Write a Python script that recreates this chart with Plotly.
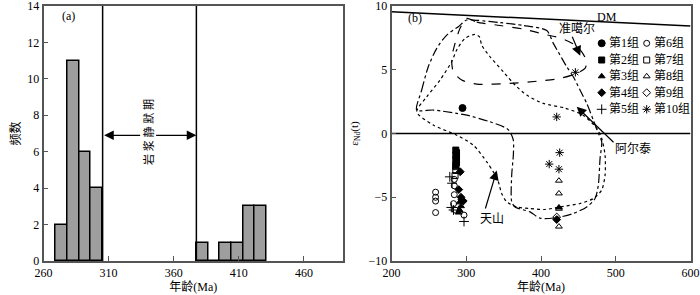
import plotly.graph_objects as go

FONT = "Liberation Serif, 'Noto Sans CJK SC', serif"

# ---------------- panel (a): histogram ----------------
bin_start = [269.4, 278.4, 287.4, 296.4, 377.4, 386.4, 395.4, 404.4, 413.4, 422.4]
counts = [2, 11, 6, 4, 1, 0, 1, 1, 3, 3]
bin_width = 9
quiet_bounds = [305.4, 377.4]      # magmatic quiescence boundaries (Ma)
quiet_arrow_y = 6.9
a_xticks = [260, 310, 360, 410, 460]
a_yticks = [0, 2, 4, 6, 8, 10, 12, 14]

# ---------------- panel (b): eNd(t) vs age ----------------
g1_age = [295]
g1_eps = [2.0]
g2_age = [286, 287, 286, 287, 286, 287, 286]
g2_eps = [-1.3, -1.5, -1.7, -1.9, -2.1, -2.3, -2.5]
g3_age = [291, 293, 291, 290, 424]
g3_eps = [-5.4, -5.7, -6.0, -6.2, -5.8]
g4_age = [292, 290, 293, 296, 294, 421]
g4_eps = [-3.0, -4.4, -5.0, -5.3, -5.2, -6.75]
g5_age = [278, 281, 280, 283, 297]
g5_eps = [-3.4, -3.9, -5.8, -6.0, -6.9]
g6_age = [259, 259, 259, 259, 284, 284, 284, 283, 285, 297]
g6_eps = [-4.6, -5.0, -5.3, -6.2, -3.6, -4.1, -4.8, -5.5, -6.0, -6.4]
g7_age = [286, 286, 285]
g7_eps = [-2.6, -2.9, -3.3]
g8_age = [424, 424, 424, 424]
g8_eps = [-3.7, -4.7, -5.9, -7.3]
g9_age = [421]
g9_eps = [-6.55]
g10_age = [421, 425, 411, 424, 446]
g10_eps = [1.3, -1.5, -2.4, -2.8, 4.8]

b_xticks = [200, 300, 400, 500, 600]
b_yticks = [-10, -5, 0, 5, 10]

dm_age = [200, 600]
dm_eps = [9.55, 8.43]
chur_age = [200, 600]
chur_eps = [0, 0]

# Junggar field (dashed)
jg_age = [300.6, 314.0, 345.2, 376.4, 403.1, 425.5, 443.2, 454.5, 461.2, 458.9, 447.8,
          425.5, 403.1, 358.6, 314.0, 293.9, 282.7, 280.5, 285.0, 291.7, 300.6]
jg_eps = [9.03, 8.74, 8.47, 8.19, 7.80, 7.49, 7.02, 6.41, 5.63, 5.11, 4.72,
          4.32, 4.15, 3.93, 3.88, 4.19, 4.84, 5.89, 7.07, 8.25, 9.03]
# Altai field (dash-dot)
at_age = [233.7, 240.4, 249.2, 260.5, 273.9, 289.4, 300.6, 314.0, 345.2, 376.4, 407.7,
          416.5, 425.5, 434.4, 443.2, 452.2, 461.2, 470.0, 476.7, 481.2, 479.0, 476.7,
          472.3, 461.2, 443.2, 421.0, 398.7, 385.3, 365.2, 360.8, 360.8, 363.0, 363.0,
          358.6, 354.1, 331.8, 300.6, 287.2, 255.9, 233.7]
at_eps = [1.84, 3.41, 5.24, 6.68, 7.72, 8.38, 8.90, 8.88, 8.70, 8.47, 8.08,
          7.07, 6.15, 5.24, 4.45, 3.41, 2.36, 1.05, 0.01, -0.65, -1.96, -4.05,
          -5.10, -5.76, -6.27, -6.60, -6.64, -6.15, -5.76, -5.36, -3.27, -1.70, -0.52,
          0.13, 0.40, 0.92, 1.44, 1.58, 1.84, 1.84]
# Tianshan field (dotted)
ts_age = [233.7, 247.1, 264.9, 280.5, 287.2, 298.3, 311.7, 317.5, 320.7, 331.8, 349.6,
          365.3, 380.9, 403.1, 432.1, 456.2, 474.6, 481.2, 485.7, 485.7, 481.2, 470.0,
          452.2, 425.5, 405.4, 385.3, 367.5, 354.1, 347.4, 342.9, 336.2, 327.4, 309.4,
          287.2, 255.9, 233.7]
ts_eps = [1.70, 2.88, 4.19, 5.63, 6.55, 7.46, 7.78, 7.59, 6.94, 6.02, 4.84,
          3.80, 3.01, 2.36, 1.99, 1.44, 0.40, -0.39, -1.70, -3.27, -4.44, -5.10,
          -5.49, -5.76, -5.96, -5.88, -5.76, -5.36, -4.70, -3.79, -3.01, -2.22, -0.91,
          -0.13, 0.66, 1.70]

groups = [
    ("第1组", g1_age, g1_eps, "circle", 7),
    ("第2组", g2_age, g2_eps, "square", 6),
    ("第3组", g3_age, g3_eps, "triangle-up", 6),
    ("第4组", g4_age, g4_eps, "diamond", 6),
    ("第5组", g5_age, g5_eps, "cross-thin", 7),
    ("第6组", g6_age, g6_eps, "circle-open", 6),
    ("第7组", g7_age, g7_eps, "square-open", 6),
    ("第8组", g8_age, g8_eps, "triangle-up-open", 6),
    ("第9组", g9_age, g9_eps, "diamond-open", 6),
    ("第10组", g10_age, g10_eps, "asterisk-open", 7),
]

fig = go.Figure()

# histogram bars
fig.add_trace(go.Bar(
    x=[s + bin_width / 2 for s in bin_start], y=counts, width=bin_width,
    marker=dict(color="#9e9e9e", line=dict(color="black", width=1.5)),
    xaxis="x", yaxis="y", showlegend=False))

# quiescence boundary lines
for q in quiet_bounds:
    fig.add_trace(go.Scatter(x=[q, q], y=[0, 14], mode="lines",
                             line=dict(color="black", width=1.5),
                             xaxis="x", yaxis="y", showlegend=False))

# fields
fields = [(jg_age, jg_eps, "dash"), (at_age, at_eps, "dashdot"), (ts_age, ts_eps, "dot")]
for xs, ys, dash in fields:
    fig.add_trace(go.Scatter(x=xs, y=ys, mode="lines",
                             line=dict(color="black", width=1.2, dash=dash,
                                       shape="spline", smoothing=0.7),
                             xaxis="x2", yaxis="y2", showlegend=False))

fig.add_trace(go.Scatter(x=dm_age, y=dm_eps, mode="lines", line=dict(color="black", width=1.5),
                         xaxis="x2", yaxis="y2", showlegend=False))
fig.add_trace(go.Scatter(x=chur_age, y=chur_eps, mode="lines", line=dict(color="black", width=1.5),
                         xaxis="x2", yaxis="y2", showlegend=False))

for name, xs, ys, sym, sz in groups:
    fig.add_trace(go.Scatter(x=xs, y=ys, mode="markers", name=name,
                             marker=dict(symbol=sym, size=sz, color="black",
                                         line=dict(color="black", width=1)),
                             xaxis="x2", yaxis="y2", showlegend=False))

# manual two-column legend (overlay axes measured in pixels)
leg_col_x = [601.7, 646.7]
leg_row_y = [43.3, 60.0, 76.3, 92.7, 109.3]
for i, (name, xs, ys, sym, sz) in enumerate(groups):
    cx = leg_col_x[i // 5]
    cy = leg_row_y[i % 5]
    fig.add_trace(go.Scatter(x=[cx], y=[cy], mode="markers",
                             marker=dict(symbol=sym, size=sz, color="black",
                                         line=dict(color="black", width=1)),
                             xaxis="x3", yaxis="y3", showlegend=False, cliponaxis=False))
    fig.add_annotation(x=cx + 5, y=cy, xref="x3", yref="y3", text=name, showarrow=False,
                       xanchor="left", yanchor="middle",
                       font=dict(family=FONT, size=12, color="black"))

axis_common = dict(showline=True, linecolor="#555", linewidth=1.5, mirror=True,
                   ticks="inside", ticklen=5, tickcolor="#555", showgrid=False,
                   zeroline=False, automargin=False, ticklabeloverflow="allow",
                   tickfont=dict(family=FONT, size=12, color="black"))

fig.update_layout(
    width=700, height=295,
    margin=dict(l=0, r=0, t=6, b=34),
    paper_bgcolor="white", plot_bgcolor="rgba(0,0,0,0)",
    bargap=0,
    xaxis=dict(domain=[43.5 / 700, 343 / 700], range=[260, 490], tickvals=a_xticks,
               anchor="y",
               title=dict(text="年龄(Ma)", font=dict(family=FONT, size=12, color="black"),
                          standoff=2),
               **axis_common),
    yaxis=dict(domain=[0, 1], range=[0, 14], tickvals=a_yticks, anchor="x",
               title=dict(text="频数", font=dict(family=FONT, size=12, color="black"),
                          standoff=4),
               **axis_common),
    xaxis2=dict(domain=[391.5 / 700, 690.5 / 700], range=[200, 600], tickvals=b_xticks,
                anchor="y2",
                title=dict(text="年龄(Ma)", font=dict(family=FONT, size=12, color="black"),
                           standoff=2),
                **axis_common),
    yaxis2=dict(domain=[0, 1], range=[-10, 10], tickvals=b_yticks, anchor="x2",
                title=dict(text="ε<sub>Nd</sub>(t)", font=dict(family=FONT, size=11, color="black"),
                           standoff=8),
                **axis_common),
    xaxis3=dict(domain=[0, 1], range=[0, 700], visible=False, anchor="y3", fixedrange=True),
    yaxis3=dict(domain=[0, 1], range=[261, 6], visible=False, anchor="x3", fixedrange=True),
)

# panel (a) annotations
fig.add_annotation(x=quiet_bounds[1], y=quiet_arrow_y, ax=quiet_bounds[0], ay=quiet_arrow_y,
                   xref="x", yref="y", axref="x", ayref="y", text="", showarrow=True,
                   arrowhead=2, arrowsize=1.6, arrowwidth=1.2, arrowside="end+start",
                   arrowcolor="black")
fig.add_annotation(x=340.5, y=7.1, xref="x", yref="y", text="岩 浆 静 默 期", showarrow=False,
                   textangle=-90, bgcolor="white",
                   font=dict(family=FONT, size=11, color="black"))
fig.add_annotation(x=279.5, y=13.45, xref="x", yref="y", text="(a)", showarrow=False,
                   font=dict(family=FONT, size=12, color="black"))

# panel (b) annotations
fig.add_annotation(x=232, y=9.05, xref="x2", yref="y2", text="(b)", showarrow=False,
                   font=dict(family=FONT, size=12, color="black"))
fig.add_annotation(x=488, y=9.15, xref="x2", yref="y2", text="DM", showarrow=False,
                   font=dict(family=FONT, size=12, color="black"))
fig.add_annotation(x=447.8, y=8.2, xref="x2", yref="y2", text="准噶尔", showarrow=False,
                   font=dict(family=FONT, size=12, color="black"))
fig.add_annotation(x=522.5, y=-1.17, xref="x2", yref="y2", text="阿尔泰", showarrow=False,
                   font=dict(family=FONT, size=12, color="black"))
fig.add_annotation(x=335, y=-6.67, xref="x2", yref="y2", text="天山", showarrow=False,
                   font=dict(family=FONT, size=12, color="black"))
arrows = [((452.5, 6.1), (441, 7.7)), ((447.8, 2.1), (499, -0.8)), ((340.8, -2.9), (325, -6.0))]
for (tx, ty), (sx, sy) in arrows:
    fig.add_annotation(x=tx, y=ty, ax=sx, ay=sy, xref="x2", yref="y2", axref="x2", ayref="y2",
                       text="", showarrow=True, arrowhead=2, arrowsize=1.6, arrowwidth=1.2,
                       arrowcolor="black")

fig.write_html("out.html", config={"displayModeBar": False},
               post_script="document.body.style.margin='0';document.documentElement.style.margin='0';")
